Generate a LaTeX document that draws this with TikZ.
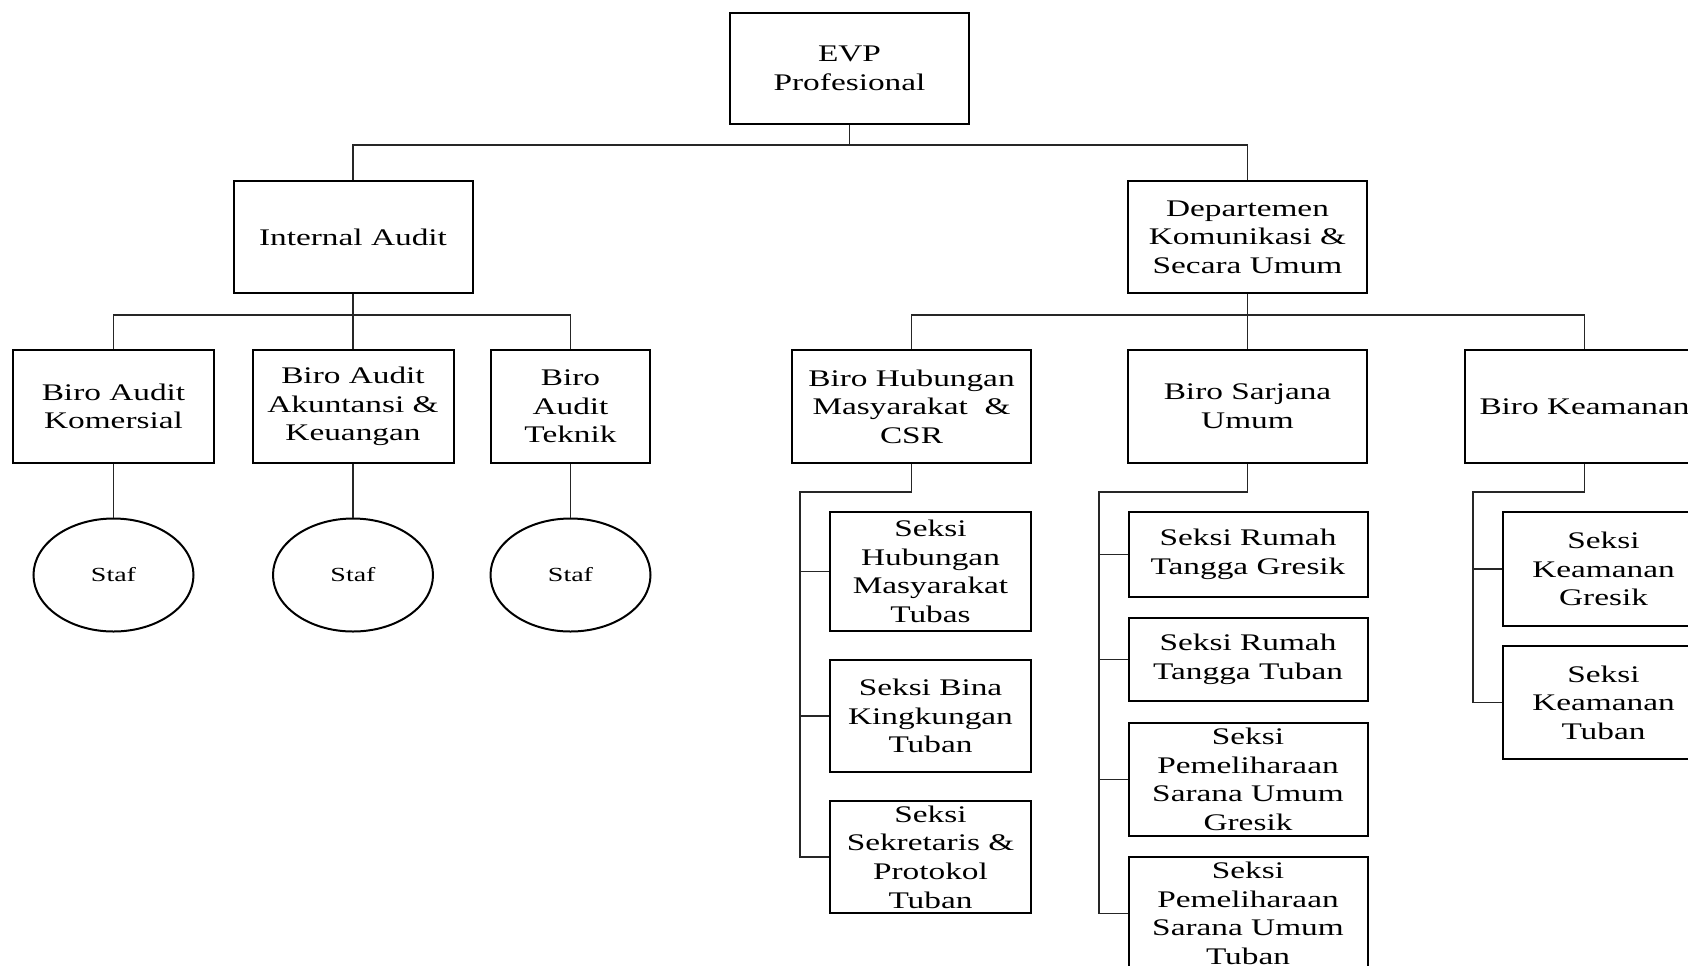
\documentclass[tikz,border=0pt]{standalone}
\usepackage{fontspec}
\setmainfont[FakeStretch=1.4]{Liberation Serif}
\usetikzlibrary{shapes.geometric}
\begin{document}
\begin{tikzpicture}[x=0.5pt,y=-0.5pt,
  sz/.style 2 args={minimum width=#1*0.5pt, minimum height=#2*0.5pt},
  box/.style={draw, line width=1pt, align=center, inner sep=0pt,
    font=\fontsize{11.9}{14.3}\selectfont},
  staf/.style={draw, ellipse, line width=1pt, inner sep=0pt,
    font=\fontsize{10}{12}\selectfont},
  link/.style={line width=0.75pt, draw=black!85}]
\useasboundingbox (0,0) rectangle (1688,965);
\clip (0,0) rectangle (1688,965);

% top levels
\node[box, sz={239}{111}] (evp) at (849.5,68.5) {EVP\\Profesional};
\node[box, sz={239}{112}] (ia)  at (353,237) {Internal Audit};
\node[box, sz={239}{112}] (dep) at (1247.5,237) {Departemen\\Komunikasi \&\\Secara Umum};

% biro row
\node[box, sz={201}{113}] (bak) at (113.5,406.5) {Biro Audit\\Komersial};
\node[box, sz={201}{113}] (baa) at (353,406.5) {Biro Audit\\Akuntansi \&\\Keuangan};
\node[box, sz={159}{113}] (bat) at (570.5,406.5) {Biro\\Audit\\Teknik};
\node[box, sz={239}{113}] (bhm) at (911.5,406.5) {Biro Hubungan\\Masyarakat\ \ \&\\CSR};
\node[box, sz={239}{113}] (bsu) at (1247.5,406.5) {Biro Sarjana\\Umum};
\node[box, sz={239}{113}] (bk)  at (1584.5,406.5) {Biro Keamanan};

% staff
\node[staf, sz={160}{113}] (s1) at (113.5,575) {Staf};
\node[staf, sz={160}{113}] (s2) at (353,575) {Staf};
\node[staf, sz={160}{113}] (s3) at (570.5,575) {Staf};

% seksi under Biro Hubungan Masyarakat
\node[box, sz={201}{119}] (shm) at (930.5,571.5) {Seksi\\Hubungan\\Masyarakat\\Tubas};
\node[box, sz={201}{112}] (sbk) at (930.5,716) {Seksi Bina\\Kingkungan\\Tuban};
\node[box, sz={201}{112}] (ssp) at (930.5,857) {Seksi\\Sekretaris \&\\Protokol\\Tuban};

% seksi under Biro Sarjana Umum
\node[box, sz={239}{85}]  (rtg) at (1248,554.5) {Seksi Rumah\\Tangga Gresik};
\node[box, sz={239}{83}]  (rtt) at (1248,659.5) {Seksi Rumah\\Tangga Tuban};
\node[box, sz={239}{113}] (psg) at (1248,779.5) {Seksi\\Pemeliharaan\\Sarana Umum\\Gresik};
\node[box, sz={239}{113}] (pst) at (1248,913.5) {Seksi\\Pemeliharaan\\Sarana Umum\\Tuban};

% seksi under Biro Keamanan
\node[box, sz={201}{114}] (skg) at (1603.5,569) {Seksi\\Keamanan\\Gresik};
\node[box, sz={201}{113}] (skt) at (1603.5,702.5) {Seksi\\Keamanan\\Tuban};

% bus coordinates
\coordinate (bus1) at (849.5,145);
\coordinate (bus2) at (353,315);
\coordinate (bus3) at (1247.5,315);
\coordinate (e1) at (800,492);
\coordinate (e2) at (1099,492);
\coordinate (e3) at (1473,492);

% connectors
\draw[link] (evp.south) -- (bus1);
\draw[link] (ia.north) |- (bus1) -| (dep.north);

\draw[link] (ia.south) -- (baa.north);
\draw[link] (bak.north) |- (bus2) -| (bat.north);

\draw[link] (dep.south) -- (bsu.north);
\draw[link] (bhm.north) |- (bus3) -| (bk.north);

\draw[link] (bak.south) -- (s1.north);
\draw[link] (baa.south) -- (s2.north);
\draw[link] (bat.south) -- (s3.north);

\draw[link] (bhm.south) |- (e1) |- (ssp.west);
\draw[link] (e1 |- shm.west) -- (shm.west);
\draw[link] (e1 |- sbk.west) -- (sbk.west);

\draw[link] (bsu.south) |- (e2) |- (pst.west);
\draw[link] (e2 |- rtg.west) -- (rtg.west);
\draw[link] (e2 |- rtt.west) -- (rtt.west);
\draw[link] (e2 |- psg.west) -- (psg.west);

\draw[link] (bk.south) |- (e3) |- (skt.west);
\draw[link] (e3 |- skg.west) -- (skg.west);
\end{tikzpicture}
\end{document}
